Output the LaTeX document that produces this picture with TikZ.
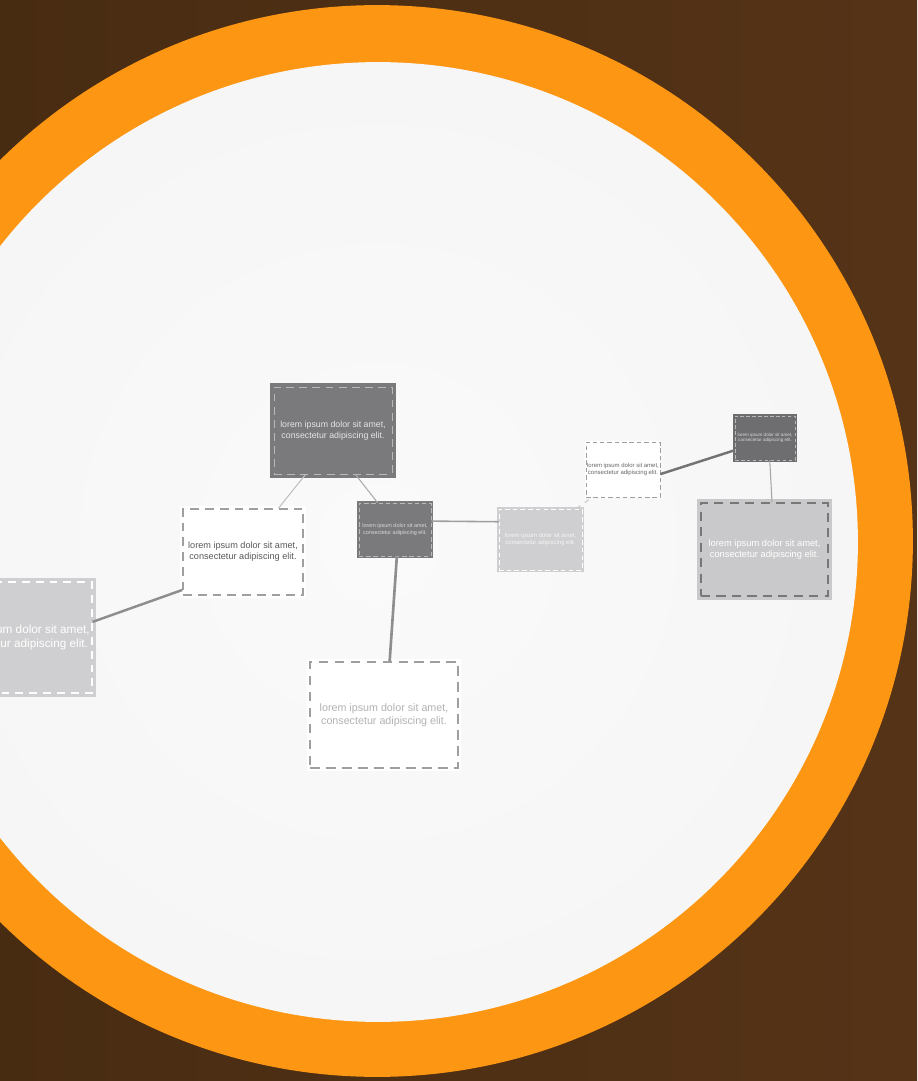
\documentclass[tikz,border=0pt]{standalone}
\usepackage{fontspec}
\setmainfont{Liberation Sans}
\definecolor{bgbrown}{HTML}{482C12}
\definecolor{bgbrownlt}{HTML}{553317}
\definecolor{ring}{HTML}{FD9612}
\definecolor{discin}{HTML}{FAFAFA}
\definecolor{discout}{HTML}{F0F0F0}
\definecolor{carddark}{HTML}{7A7A7C}
\definecolor{cardgrey}{HTML}{CFCFD1}
\definecolor{cardrule}{HTML}{777777}
\definecolor{linkgrey}{HTML}{8E8E8E}
\pgfdeclareradialshading{discshade}{\pgfpoint{0bp}{0bp}}{color(0bp)=(discin); color(28bp)=(discin!55!discout); color(50bp)=(discout)}
\newcommand{\loremtxt}{lorem ipsum dolor sit amet,\\consectetur adipiscing elit.}
\tikzset{
  card/.style       = {rectangle, inner sep=0pt, align=center},
  darkcard/.style   = {card, fill=carddark, draw=gray!55, text=gray!20, line width=0.4pt,
                       dash pattern=on 4.5pt off 3pt,
                       preaction={draw=carddark, solid, line width=#1}},
  darkcard/.default = 4.5pt,
  greycard/.style   = {card, fill=cardgrey, draw=white, text=white, line width=0.7pt,
                       dash pattern=on 4.5pt off 3.4pt,
                       preaction={draw=cardgrey, solid, line width=#1}},
  greycard/.default = 4.5pt,
  whitecard/.style  = {card, fill=white, draw=gray!75, text=gray!85, line width=0.9pt,
                       dash pattern=on 5pt off 3.4pt,
                       preaction={draw=white, solid, line width=#1}},
  whitecard/.default = 3pt,
  link/.style       = {draw=linkgrey, line width=#1}
}
\begin{document}
\begin{tikzpicture}[x=0.02cm,y=-0.02cm]
  \useasboundingbox (0,0) rectangle (917,1081);
  \clip (0,0) rectangle (917,1081);
  \shade[left color=bgbrown, right color=bgbrownlt] (0,0) rectangle (917,1081);
  \fill[ring] (377,541) circle[radius=10.72cm];
  \shade[shading=discshade] (378,542) circle[radius=9.6cm];

  \node[darkcard, minimum width=2.36cm, minimum height=1.74cm,
        font=\fontsize{5}{6.2}\selectfont] (topcard) at (333,430.5) {\loremtxt};
  \node[whitecard, minimum width=2.4cm, minimum height=1.72cm, text=gray!70!black,
        font=\fontsize{5.2}{6.4}\selectfont] (midwhite) at (243,552) {\loremtxt};
  \node[darkcard=2pt, minimum width=1.44cm, minimum height=1.06cm, line width=0.3pt,
        dash pattern=on 2.5pt off 1.6pt, text=gray!30,
        font=\fontsize{3.1}{3.9}\selectfont] (hubcard) at (395,529.5) {\loremtxt};
  \node[greycard, minimum width=2.92cm, minimum height=2.22cm,
        font=\fontsize{6.7}{8.4}\selectfont] (leftcard) at (19,637.5) {\loremtxt};
  \node[whitecard, minimum width=2.96cm, minimum height=2.12cm, text=gray!60,
        dash pattern=on 5.5pt off 3.6pt, line width=1pt,
        font=\fontsize{6.1}{7.6}\selectfont] (lowcard) at (384,715) {\loremtxt};
  \node[greycard=2pt, minimum width=1.66cm, minimum height=1.22cm, line width=0.4pt,
        dash pattern=on 2.6pt off 1.8pt, text=gray!8,
        font=\fontsize{3.4}{4.3}\selectfont] (greycard) at (540.5,539.5) {\loremtxt};
  \node[whitecard=1pt, minimum width=1.48cm, minimum height=1.1cm, line width=0.5pt,
        dash pattern=on 2.6pt off 1.6pt, text=gray!80!black,
        font=\fontsize{3.4}{4.2}\selectfont] (smallwhite) at (623,469.5) {\loremtxt};
  \node[darkcard=2pt, minimum width=1.2cm, minimum height=0.88cm, line width=0.3pt,
        fill=carddark!90!black, preaction={draw=carddark!90!black, solid, line width=2pt},
        dash pattern=on 2pt off 1.4pt, text=gray!30,
        font=\fontsize{2.6}{3.2}\selectfont] (cornercard) at (765,438) {\loremtxt};
  \node[greycard=5pt, minimum width=2.54cm, minimum height=1.86cm, draw=cardrule,
        fill=cardgrey!97!black, preaction={draw=cardgrey!97!black, solid, line width=5pt},
        line width=1pt, dash pattern=on 5.2pt off 3.6pt,
        font=\fontsize{5.3}{6.6}\selectfont] (rightcard) at (764.5,549.5) {\loremtxt};

  \draw[link=0.6pt, draw=gray!50] (topcard.238) -- (midwhite.51);
  \draw[link=0.6pt, draw=gray!65] (topcard.297) -- (hubcard.123);
  \draw[link=1.4pt] (midwhite.212) -- (leftcard.12);
  \draw[link=1.5pt] (hubcard.274) -- (lowcard.84);
  \draw[link=0.9pt, draw=gray!75] (hubcard.13) -- (greycard.157);
  \draw[link=0.6pt, draw=gray!40, dashed] (greycard.41) -- (smallwhite.222);
  \draw[link=1.4pt, draw=gray!90!black] (smallwhite.353) -- (cornercard.202);
  \draw[link=0.6pt, draw=gray!70] (cornercard.282) -- (rightcard.81);
\end{tikzpicture}
\end{document}
